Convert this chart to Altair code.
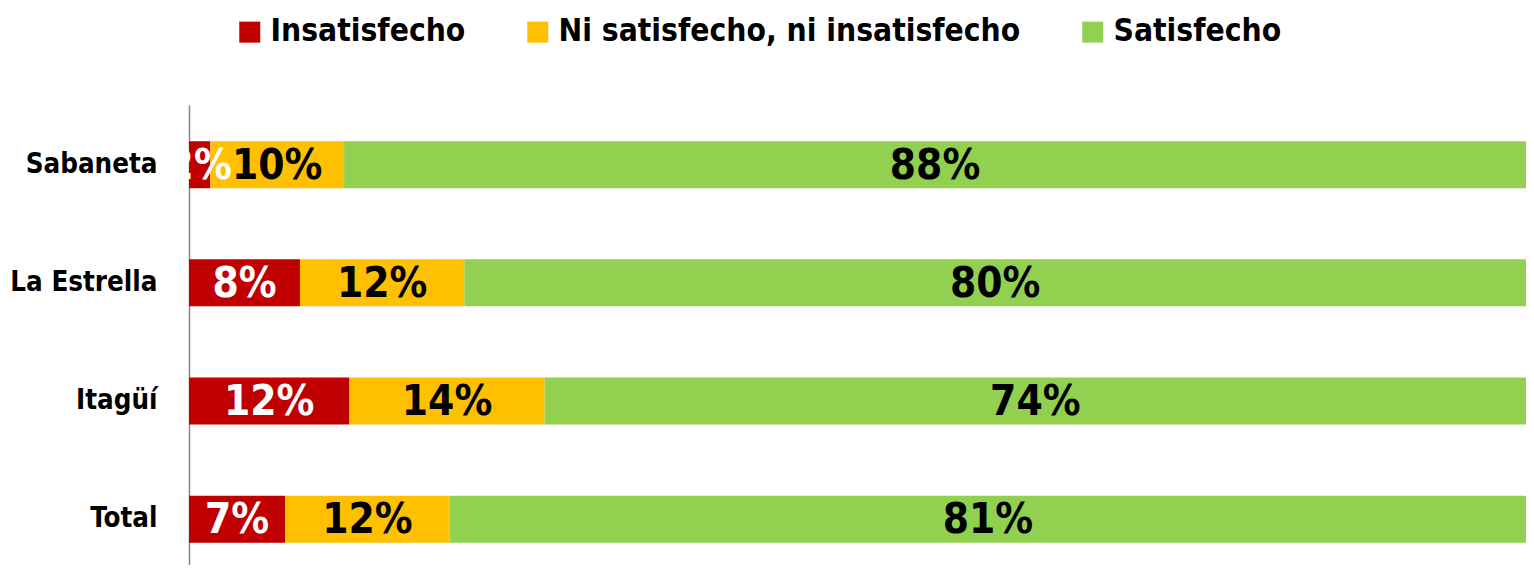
import altair as alt
import pandas as pd

cities = ["Sabaneta", "La Estrella", "Itagüí", "Total"]
categories = ["Insatisfecho", "Ni satisfecho, ni insatisfecho", "Satisfecho"]
colors = ["#C00000", "#FFC000", "#92D050"]
text_colors = ["#FFFFFF", "#000000", "#000000"]

insatisfecho = [1.6, 8.3, 12.0, 7.2]
neutral = [10.0, 12.3, 14.6, 12.3]
satisfecho = [88.4, 79.4, 73.4, 80.5]

labels_ins = ["2%", "8%", "12%", "7%"]
labels_neu = ["10%", "12%", "14%", "12%"]
labels_sat = ["88%", "80%", "74%", "81%"]

rows = []
for i, c in enumerate(cities):
    for k, (vals, labs) in enumerate(zip([insatisfecho, neutral, satisfecho],
                                         [labels_ins, labels_neu, labels_sat])):
        rows.append({"city": c, "cat": categories[k], "value": vals[i],
                     "label": labs[i], "order": k, "tcolor": text_colors[k]})
df = pd.DataFrame(rows)

FONT = "'DejaVu Sans Condensed', 'Liberation Sans Narrow', sans-serif"

base = alt.Chart(df)

bars = base.mark_bar(size=47).encode(
    y=alt.Y("city:N", sort=cities, title=None,
            scale=alt.Scale(paddingInner=0.6, paddingOuter=0.2456, align=0.62),
            axis=alt.Axis(domainColor="#868686", domainWidth=1.5, ticks=False,
                          labelFont=FONT, labelFontWeight="bold", labelFontSize=27.5,
                          labelColor="#000000", labelPadding=32, labelLimit=300)),
    x=alt.X("value:Q", stack="zero", scale=alt.Scale(domain=[0, 100], nice=False),
            axis=None),
    color=alt.Color("cat:N", sort=categories,
                    scale=alt.Scale(domain=categories, range=colors),
                    legend=alt.Legend(title=None, orient="none", direction="horizontal",
                                      legendX=45, legendY=-89,
                                      symbolType="square", symbolSize=441,
                                      symbolStrokeWidth=0,
                                      labelFont=FONT, labelFontWeight="bold",
                                      labelFontSize=31.5, labelColor="#000000",
                                      labelOffset=5, columnPadding=56,
                                      labelLimit=800)),
    order=alt.Order("order:Q"),
)

text = base.transform_window(
    cum="sum(value)", groupby=["city"], sort=[alt.SortField("order")]
).transform_calculate(
    mid="datum.cum - datum.value / 2"
).mark_text(font=FONT, fontWeight="bold", fontSize=42, baseline="middle", dy=1).encode(
    y=alt.Y("city:N", sort=cities),
    x=alt.X("mid:Q"),
    text="label:N",
    color=alt.Color("tcolor:N", scale=None),
)

chart = alt.layer(bars, text).properties(
    width=1337, height=460,
    padding={"left": 181, "top": 97, "right": 0, "bottom": 0},
    autosize=alt.AutoSizeParams(type="none"),
    background="white",
).configure_view(stroke=None)

chart.save("out.html", embed_options={"renderer": "svg", "actions": False})
